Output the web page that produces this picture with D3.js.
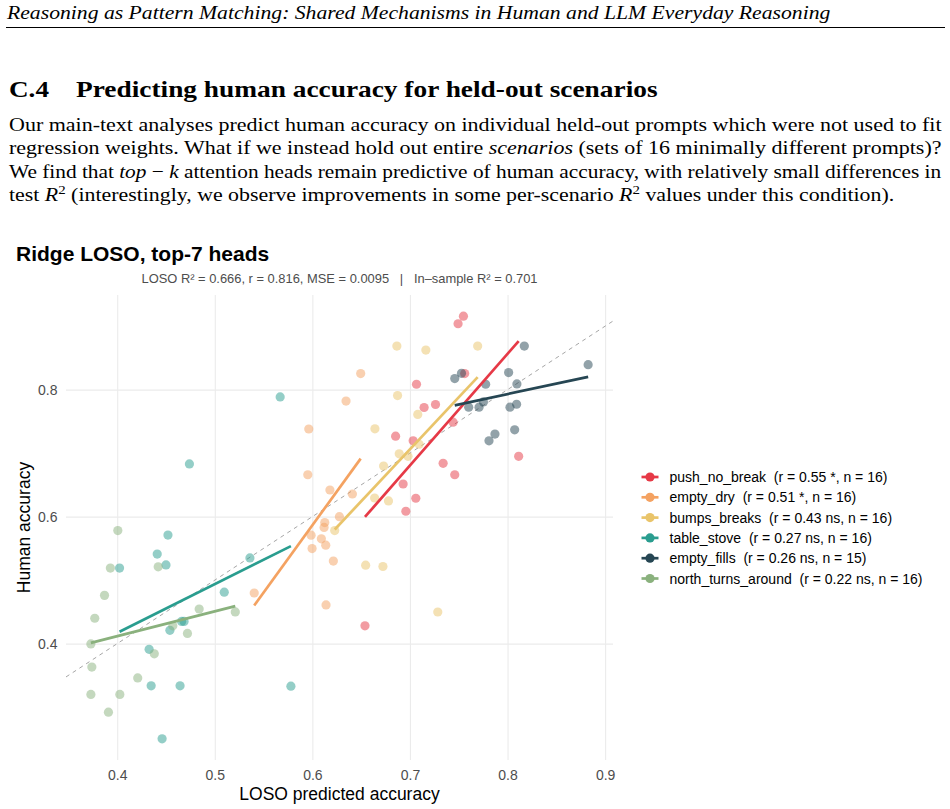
<!DOCTYPE html>
<html>
<head>
<meta charset="utf-8">
<script src="https://cdn.jsdelivr.net/npm/d3@7"></script>
<style>
  body { margin: 0; background: #fff; }
  svg { display: block; }
  text { white-space: pre; }
</style>
</head>
<body>
<script>
// ---- data ----
const groups = ["push_no_break", "empty_dry", "bumps_breaks", "table_stove", "empty_fills", "north_turns_around"];
const legendLabels = [
  "push_no_break  (r = 0.55 *, n = 16)",
  "empty_dry  (r = 0.51 *, n = 16)",
  "bumps_breaks  (r = 0.43 ns, n = 16)",
  "table_stove  (r = 0.27 ns, n = 16)",
  "empty_fills  (r = 0.26 ns, n = 15)",
  "north_turns_around  (r = 0.22 ns, n = 16)"
];

const pushPred  = [0.7548, 0.7493, 0.7561, 0.7067, 0.7145, 0.7262, 0.7442, 0.6853, 0.7033, 0.734, 0.7459, 0.693, 0.706, 0.6958, 0.6539, 0.8114];
const pushHuman = [0.9158, 0.9038, 0.8253, 0.8085, 0.7719, 0.7766, 0.7488, 0.7268, 0.7194, 0.684, 0.666, 0.6514, 0.629, 0.6085, 0.428, 0.695];

const dryPred  = [0.6345, 0.5963, 0.5953, 0.618, 0.641, 0.6277, 0.6127, 0.612, 0.5987, 0.6092, 0.6137, 0.5997, 0.6215, 0.5404, 0.614, 0.6495];
const dryHuman = [0.782, 0.738, 0.666, 0.642, 0.6357, 0.600, 0.5906, 0.583, 0.5708, 0.565, 0.555, 0.5497, 0.530, 0.4797, 0.461, 0.8253];

const bumpsPred  = [0.6866, 0.7163, 0.6873, 0.708, 0.6641, 0.689, 0.698, 0.7094, 0.673, 0.6638, 0.678, 0.6546, 0.6723, 0.7285, 0.6229, 0.7694];
const bumpsHuman = [0.8687, 0.8624, 0.7907, 0.761, 0.7383, 0.699, 0.695, 0.714, 0.6797, 0.6294, 0.6247, 0.5236, 0.5215, 0.4498, 0.578, 0.8687];

const stovePred  = [0.452, 0.441, 0.4024, 0.450, 0.5097, 0.466, 0.4685, 0.454, 0.4327, 0.4348, 0.4644, 0.446, 0.474, 0.567, 0.578, 0.536];
const stoveHuman = [0.571, 0.541, 0.519, 0.524, 0.481, 0.435, 0.435, 0.421, 0.391, 0.3335, 0.3335, 0.250, 0.683, 0.7885, 0.333, 0.535];

const fillsPred  = [0.8172, 0.8826, 0.8011, 0.8096, 0.7459, 0.7528, 0.7776, 0.7602, 0.7708, 0.7753, 0.8025, 0.8093, 0.8073, 0.7871, 0.781];
const fillsHuman = [0.8687, 0.8394, 0.8269, 0.809, 0.8174, 0.8258, 0.8085, 0.7724, 0.7724, 0.7807, 0.7724, 0.777, 0.7367, 0.73, 0.7194];

const northPred  = [0.4006, 0.393, 0.387, 0.377, 0.373, 0.374, 0.373, 0.4027, 0.391, 0.421, 0.438, 0.442, 0.484, 0.472, 0.457, 0.521];
const northHuman = [0.578, 0.519, 0.476, 0.440, 0.3995, 0.363, 0.320, 0.320, 0.292, 0.346, 0.384, 0.521, 0.4545, 0.416, 0.428, 0.450];

const xTicks = [0.4, 0.5, 0.6, 0.7, 0.8, 0.9];
const yTicks = [0.4, 0.6, 0.8];

const palette = ["#E63946", "#F4A261", "#E9C46A", "#2A9D8F", "#264653", "#8AB17D"];

const predArrays = [pushPred, dryPred, bumpsPred, stovePred, fillsPred, northPred];
const humanArrays = [pushHuman, dryHuman, bumpsHuman, stoveHuman, fillsHuman, northHuman];

const series = groups.map((g, i) => ({
  name: g,
  label: legendLabels[i],
  color: palette[i],
  pts: predArrays[i].map((p, j) => ({ x: p, y: humanArrays[i][j] }))
}));

// ---- page ----
const W = 950, H = 809;
const svg = d3.select('body').append('svg').attr('width', W).attr('height', H);

const serif = '"Liberation Serif", "Times New Roman", serif';
const sans = '"Liberation Sans", Arial, sans-serif';

// stretch a text line so it spans x0..x1
function fitLine(t, x0, x1) {
  const len = t.node().getComputedTextLength();
  t.attr('transform', `translate(${x0},0) scale(${(x1 - x0) / len},1)`);
}

const header = svg.append('text')
  .attr('y', 19)
  .style('font-family', serif).style('font-style', 'italic').style('font-size', '19px')
  .text('Reasoning as Pattern Matching: Shared Mechanisms in Human and LLM Everyday Reasoning');
fitLine(header, 7, 831);

svg.append('line')
  .attr('x1', 6).attr('x2', 945).attr('y1', 27.5).attr('y2', 27.5)
  .attr('stroke', '#000').attr('stroke-width', 1);

const secNum = svg.append('text').attr('y', 97)
  .style('font-family', serif).style('font-weight', 'bold').style('font-size', '24px')
  .text('C.4');
fitLine(secNum, 9, 49);
const secTitle = svg.append('text').attr('y', 97)
  .style('font-family', serif).style('font-weight', 'bold').style('font-size', '24px')
  .text('Predicting human accuracy for held-out scenarios');
fitLine(secTitle, 76, 658);

// paragraph, one entry per line: [text, italic?, superscript?] pieces
const para = [
  [["Our main-text analyses predict human accuracy on individual held-out prompts which were not used to fit"]],
  [["regression weights. What if we instead hold out entire "], ["scenarios", "i"], [" (sets of 16 minimally different prompts)?"]],
  [["We find that "], ["top", "i"], [" \u2212 "], ["k", "i"], [" attention heads remain predictive of human accuracy, with relatively small differences in"]],
  [["test "], ["R", "i"], ["2", "sup"], [" (interestingly, we observe improvements in some per-scenario "], ["R", "i"], ["2", "sup"], [" values under this condition)."]]
];
const paraBase = [131, 154.5, 178, 201.5];
const paraEnd = [942, 942, 942, 895];

para.forEach((pieces, li) => {
  const t = svg.append('text').attr('y', paraBase[li])
    .style('font-family', serif).style('font-size', '19px');
  let raised = false;
  pieces.forEach(([s, kind]) => {
    const ts = t.append('tspan').text(s);
    if (kind === 'i') ts.style('font-style', 'italic');
    if (kind === 'sup') { ts.attr('dy', -7).style('font-size', '13px'); raised = true; }
    else if (raised) { ts.attr('dy', 7); raised = false; }
  });
  fitLine(t, 9, paraEnd[li]);
});

// ---- chart ----
const panel = { left: 66, right: 613, top: 295, bottom: 760 };

const allX = series.flatMap(s => s.pts.map(p => p.x));
const allY = series.flatMap(s => s.pts.map(p => p.y));
function expand(ext) { const d = (ext[1] - ext[0]) * 0.05; return [ext[0] - d, ext[1] + d]; }
const xDom = expand(d3.extent(allX));
const yDom = expand(d3.extent(allY));

const x = d3.scaleLinear().domain(xDom).range([panel.left, panel.right]);
const y = d3.scaleLinear().domain(yDom).range([panel.bottom, panel.top]);

svg.append('text')
  .attr('x', 16).attr('y', 260.5)
  .style('font-family', sans).style('font-weight', 'bold').style('font-size', '21px')
  .text('Ridge LOSO, top-7 heads');

svg.append('text')
  .attr('x', (panel.left + panel.right) / 2).attr('y', 282.5)
  .attr('text-anchor', 'middle')
  .style('font-family', sans).style('font-size', '12.9px').attr('fill', '#4d4d4d')
  .text('LOSO R\u00b2 = 0.666, r = 0.816, MSE = 0.0095   |   In\u2013sample R\u00b2 = 0.701');

// gridlines
const gridX = svg.append('g')
  .attr('transform', `translate(0,${panel.bottom})`)
  .call(d3.axisBottom(x).tickValues(xTicks).tickSize(-(panel.bottom - panel.top)).tickFormat(''));
const gridY = svg.append('g')
  .attr('transform', `translate(${panel.left},0)`)
  .call(d3.axisLeft(y).tickValues(yTicks).tickSize(-(panel.right - panel.left)).tickFormat(''));
[gridX, gridY].forEach(g => {
  g.select('.domain').remove();
  g.selectAll('line').attr('stroke', '#ebebeb').attr('stroke-width', 1.1);
});

// tick labels
const axX = svg.append('g')
  .attr('transform', `translate(0,${panel.bottom})`)
  .call(d3.axisBottom(x).tickValues(xTicks).tickSize(0).tickPadding(10).tickFormat(d3.format('.1f')));
const axY = svg.append('g')
  .attr('transform', `translate(${panel.left},0)`)
  .call(d3.axisLeft(y).tickValues(yTicks).tickSize(0).tickPadding(8.5).tickFormat(d3.format('.1f')));
[axX, axY].forEach(g => {
  g.select('.domain').remove();
  g.selectAll('text').attr('fill', '#4d4d4d').style('font-family', sans).style('font-size', '14px');
});

// clip to panel
svg.append('clipPath').attr('id', 'clip')
  .append('rect')
  .attr('x', panel.left).attr('y', panel.top)
  .attr('width', panel.right - panel.left).attr('height', panel.bottom - panel.top);

// identity line
svg.append('line')
  .attr('clip-path', 'url(#clip)')
  .attr('x1', x(xDom[0])).attr('y1', y(xDom[0]))
  .attr('x2', x(xDom[1])).attr('y2', y(xDom[1]))
  .attr('stroke', '#a6a6a6').attr('stroke-width', 1).attr('stroke-dasharray', '4,4');

// points
series.forEach(s => {
  svg.append('g').selectAll('circle')
    .data(s.pts)
    .enter()
    .append('circle')
      .attr('cx', d => x(d.x))
      .attr('cy', d => y(d.y))
      .attr('r', 4.6)
      .attr('fill', s.color)
      .attr('fill-opacity', 0.5);
});

// per-scenario least-squares fits
function fit(pts) {
  const mx = d3.mean(pts, p => p.x), my = d3.mean(pts, p => p.y);
  const sxy = d3.sum(pts, p => (p.x - mx) * (p.y - my));
  const sxx = d3.sum(pts, p => (p.x - mx) ** 2);
  const b = sxy / sxx;
  const [x0, x1] = d3.extent(pts, p => p.x);
  return [{ x: x0, y: my + b * (x0 - mx) }, { x: x1, y: my + b * (x1 - mx) }];
}
const line = d3.line().x(d => x(d.x)).y(d => y(d.y));
series.forEach(s => {
  svg.append('path')
    .attr('d', line(fit(s.pts)))
    .attr('fill', 'none')
    .attr('stroke', s.color)
    .attr('stroke-width', 2.7);
});

// axis titles
svg.append('text')
  .attr('x', (panel.left + panel.right) / 2).attr('y', 800)
  .attr('text-anchor', 'middle')
  .style('font-family', sans).style('font-size', '17.5px')
  .text('LOSO predicted accuracy');
svg.append('text')
  .attr('transform', `translate(30,${(panel.top + panel.bottom) / 2}) rotate(-90)`)
  .attr('text-anchor', 'middle')
  .style('font-family', sans).style('font-size', '17.5px')
  .text('Human accuracy');

// legend
const legend = svg.append('g').attr('transform', 'translate(650,477)');
const rows = legend.selectAll('g')
  .data(series)
  .enter()
  .append('g')
    .attr('transform', (d, i) => `translate(0,${i * 20.3})`);
rows.append('line')
  .attr('x1', -8.5).attr('x2', 8.5)
  .attr('stroke', d => d.color).attr('stroke-width', 2.7);
rows.append('circle')
  .attr('r', 4.6)
  .attr('fill', d => d.color);
rows.append('text')
  .attr('x', 19.5).attr('y', 5)
  .style('font-family', sans).style('font-size', '14px')
  .text(d => d.label);
</script>
</body>
</html>
